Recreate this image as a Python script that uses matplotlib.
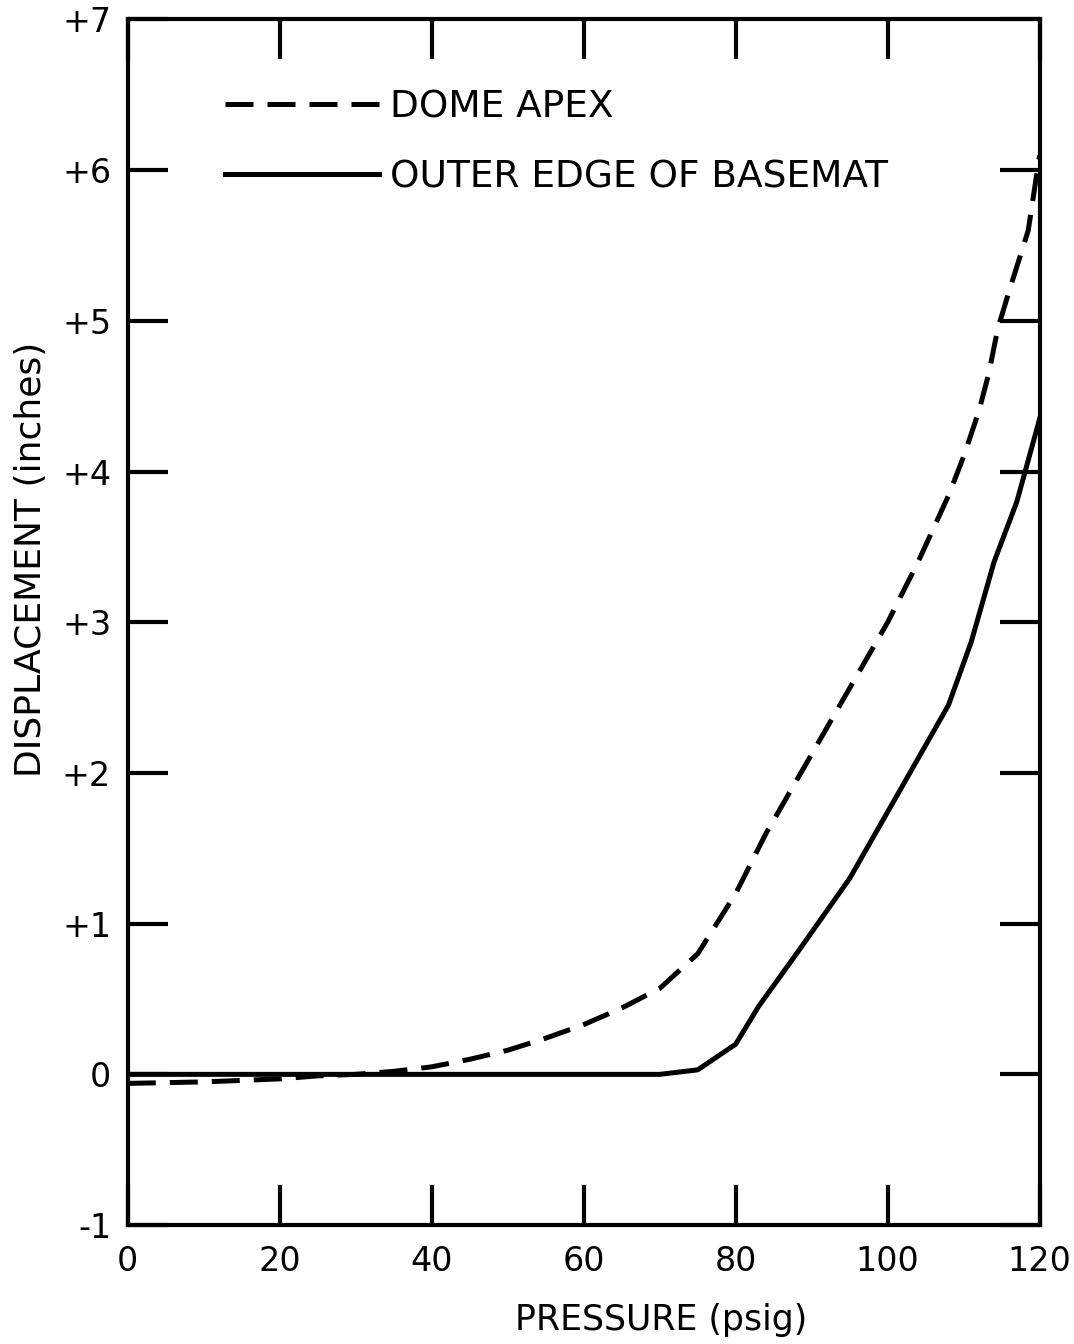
import matplotlib
matplotlib.use('Agg')
import matplotlib.pyplot as plt
import numpy as np

# values
# dome apex (dashed)
apexPressure = [0, 10, 20, 25, 30, 35, 40, 45, 50, 55, 60, 65, 70, 75, 80, 84,
                88, 92, 96, 100, 104, 108, 110, 112, 113.3, 114.5, 116, 118.5,
                120]
apexDisp = [-0.06, -0.05, -0.03, -0.01, 0.0, 0.02, 0.05, 0.1, 0.16, 0.24, 0.33,
            0.44, 0.57, 0.8, 1.2, 1.6, 1.95, 2.3, 2.65, 3.0, 3.4, 3.84, 4.1,
            4.4, 4.65, 4.95, 5.2, 5.6, 6.1]

# outer edge of basemat (solid)
edgePressure = [0, 20, 40, 60, 70, 75, 80, 83, 88, 95, 101, 108, 111, 114,
                117, 120]
edgeDisp = [0.0, 0.0, 0.0, 0.0, 0.0, 0.03, 0.2, 0.45, 0.8, 1.3, 1.83, 2.45,
            2.87, 3.4, 3.8, 4.35]

xTicks = [0, 20, 40, 60, 80, 100, 120]
xTickLabels = ['0', '20', '40', '60', '80', '100', '120']
yTicks = [-1, 0, 1, 2, 3, 4, 5, 6, 7]
yTickLabels = ['-1', '0', '+1', '+2', '+3', '+4', '+5', '+6', '+7']

plt.rcParams['font.family'] = 'DejaVu Sans'

fig = plt.figure(figsize=(10.74, 13.44), dpi=100)
ax = fig.add_axes([0.119, 0.0885, 0.849, 0.897])

lw = 3.6
ax.plot(apexPressure, apexDisp, color='black', lw=lw, dashes=(5.6, 2.8),
        label='DOME APEX')
ax.plot(edgePressure, edgeDisp, color='black', lw=lw,
        label='OUTER EDGE OF BASEMAT')

# limits equal the end ticks so the corner ticks sit on the frame
ax.set_xlim(0, 120)
ax.set_ylim(-1, 7)

ax.set_xticks(xTicks)
ax.set_xticklabels(xTickLabels)
ax.set_yticks(yTicks)
ax.set_yticklabels(yTickLabels)

ax.tick_params(direction='in', length=29, width=3, labelsize=24,
               top=True, right=True)
ax.tick_params(axis='x', pad=14)
ax.tick_params(axis='y', pad=12)

for s in ax.spines.values():
    s.set_linewidth(3)

ax.set_xlabel('PRESSURE (psig)', fontsize=25)
ax.set_ylabel('DISPLACEMENT (inches)', fontsize=26)
ax.xaxis.set_label_coords(0.585, -0.065)
ax.yaxis.set_label_coords(-0.087, 0.552)

ax.legend(loc='upper left', bbox_to_anchor=(0.07, 0.97), frameon=False,
          fontsize=27, handlelength=4.1, handletextpad=0.3,
          labelspacing=0.9)

plt.savefig('out.png', dpi=100)
